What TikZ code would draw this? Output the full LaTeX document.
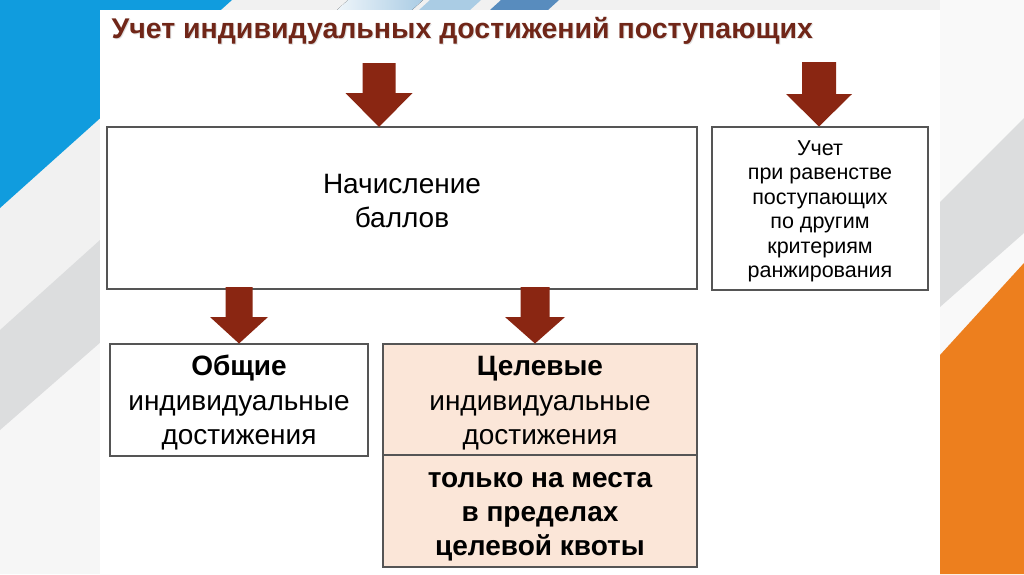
\documentclass[tikz,border=0pt]{standalone}
\usepackage{fontspec}
\setmainfont{Liberation Sans}
\definecolor{titlecol}{RGB}{112,38,24}
\definecolor{arrowcol}{RGB}{138,38,18}
\definecolor{bluebg}{RGB}{16,156,222}
\definecolor{greybg}{RGB}{241,241,241}
\definecolor{lowgrey}{RGB}{246,246,246}
\definecolor{stripegrey}{RGB}{220,221,222}
\definecolor{orangebg}{RGB}{237,127,30}
\definecolor{peach}{RGB}{251,230,216}
\definecolor{boxline}{RGB}{85,85,85}
\definecolor{lightblue}{RGB}{170,204,228}
\definecolor{steelblue}{RGB}{88,140,190}
\newcommand\myarrow[6]{% x, ytop, yhead, ytip, shaft half width, head half width
  \fill[arrowcol] (#1-#5,#2) -- (#1+#5,#2) -- (#1+#5,#3) -- (#1+#6,#3) -- (#1,#4)
    -- (#1-#6,#3) -- (#1-#5,#3) -- cycle;}
\tikzset{
  box/.style={draw=boxline, line width=1.3pt, fill=white, inner sep=0pt},
  txt/.style={align=center, inner sep=0pt, text=black},
  bigtxt/.style={txt, font=\fontsize{28}{34.5}\selectfont},
  smalltxt/.style={txt, font=\fontsize{21.5}{24.5}\selectfont},
}
\begin{document}
\begin{tikzpicture}[x=1pt,y=-1pt]
\useasboundingbox (0,0) rectangle (1024,574);
% background
\fill[greybg] (0,0) rectangle (1024,574);
\fill[lowgrey] (0,430) -- (110,334) -- (110,574) -- (0,574) -- cycle;
\fill[bluebg] (0,0) -- (232,0) -- (0,208) -- cycle;
\fill[stripegrey] (0,330) -- (110,231) -- (110,334) -- (0,430) -- cycle;
\fill[white!60!greybg] (940,0) rectangle (1024,574);
\fill[stripegrey] (940,202) -- (1024,118) -- (1024,233) -- (940,307) -- cycle;
\fill[orangebg] (940,355) -- (1024,263) -- (1024,574) -- (940,574) -- cycle;
% top strip stripes
\fill[left color=white!80!lightblue, right color=lightblue] (348,0) -- (423,0) -- (412,10) -- (337,10) -- cycle;
\fill[lightblue] (430,0) -- (481,0) -- (470,10) -- (419,10) -- cycle;
\fill[steelblue] (501,0) -- (559,0) -- (548,10) -- (490,10) -- cycle;
% slide
\fill[white] (100,10) rectangle (940,574);
% title
\node[anchor=base west, text=black!12, font=\fontsize{28.5}{31}\selectfont\bfseries] at (109,39) {Учет индивидуальных достижений поступающих};
\node[anchor=base west, text=titlecol, font=\fontsize{28.5}{31}\selectfont\bfseries] (title) at (108,38) {Учет индивидуальных достижений поступающих};
% boxes
\node[box, minimum width=590, minimum height=162] (A) at (402,208) {};
\node[bigtxt] (At) at ([yshift=7]A.center) {Начисление\\баллов};
\node[box, minimum width=216, minimum height=163] (B) at (820,208.5) {};
\node[smalltxt] (Bt) at ([yshift=-3]B.center) {Учет\\при равенстве\\поступающих\\по другим\\критериям\\ранжирования};
\node[box, minimum width=258, minimum height=112] (C) at (239,400) {};
\node[bigtxt] (Ct) at ([yshift=-3]C.center) {\textbf{Общие}\\индивидуальные\\достижения};
\node[box, fill=peach, minimum width=314, minimum height=111] (D) at (540,399.5) {};
\node[bigtxt] (Dt) at ([yshift=-4]D.center) {\textbf{Целевые}\\индивидуальные\\достижения};
\node[box, fill=peach, minimum width=314, minimum height=112] (E) at (540,511) {};
\node[txt, font=\fontsize{28}{34}\selectfont\bfseries] (Et) at ([yshift=-6]E.center) {только на места\\в пределах\\целевой квоты};
% arrows
\myarrow{379}{63}{93}{127}{16.5}{33.5}
\myarrow{819}{62}{94}{126.5}{17}{33}
\myarrow{239}{287}{317}{343.5}{13.5}{29}
\myarrow{535}{287}{317}{343.5}{14.5}{30}
\end{tikzpicture}
\end{document}
